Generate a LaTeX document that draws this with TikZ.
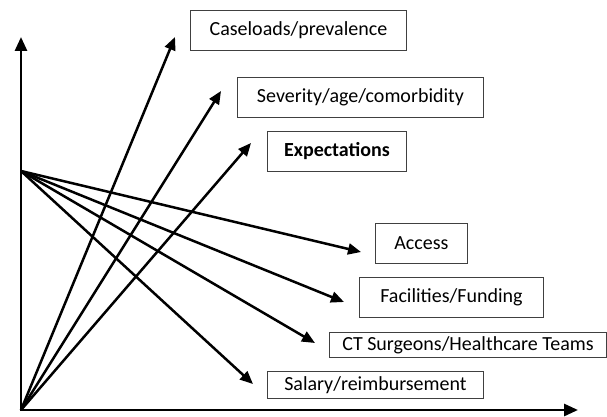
\documentclass[tikz,border=0pt]{standalone}
\usepackage{fontspec}
\setmainfont{Carlito}
\usetikzlibrary{arrows.meta}
\begin{document}
\begin{tikzpicture}[x=1pt,y=-1pt,
  lbl/.style={draw=black!75,line width=0.9pt,fill=white,inner sep=0pt,font=\fontsize{20}{22}\selectfont,anchor=north west},
  axis/.style={line width=2.8pt,-{Triangle[length=14pt,width=12pt]}},
  arr/.style={line width=2.5pt,-{Triangle[length=13pt,width=11pt]}}]
\useasboundingbox (0,0) rectangle (607,417);
% boxes
\node[lbl,minimum width=216pt,minimum height=40pt] (case) at (190,10) {Caseloads/prevalence};
\node[lbl,minimum width=246pt,minimum height=40pt] (sev) at (237,77) {Severity/age/comorbidity};
\node[lbl,minimum width=139pt,minimum height=40pt] (exp) at (267,131) {\textbf{Expectations}};
\node[lbl,minimum width=92pt,minimum height=40pt] (acc) at (375,223) {Access};
\node[lbl,minimum width=184pt,minimum height=40pt] (fac) at (359,277) {Facilities/Funding};
\node[lbl,minimum width=277pt,minimum height=25pt] (ct) at (329,332) {CT Surgeons/Healthcare Teams};
\node[lbl,minimum width=216pt,minimum height=27pt] (sal) at (267,371) {Salary/reimbursement};
% points
\coordinate (O) at (21,410);
\coordinate (P) at (21,171);
\coordinate (ytip) at (21,37);
\coordinate (xtip) at (578,410);
\coordinate (t1) at (175,37);
\coordinate (t2) at (221,91);
\coordinate (t3) at (251,143);
\coordinate (t4) at (361,252);
\coordinate (t5) at (344,302);
\coordinate (t6) at (315,343);
\coordinate (t7) at (253,384);
% arrows
\draw[arr] (O) -- (t1);
\draw[arr] (O) -- (t2);
\draw[arr] (O) -- (t3);
\draw[arr] (P) -- (t4);
\draw[arr] (P) -- (t5);
\draw[arr] (P) -- (t6);
\draw[arr] (P) -- (t7);
% axes
\draw[axis] ([yshift=1.4pt]O) -- (ytip);
\draw[axis] ([xshift=-1.4pt]O) -- (xtip);
\end{tikzpicture}
\end{document}
